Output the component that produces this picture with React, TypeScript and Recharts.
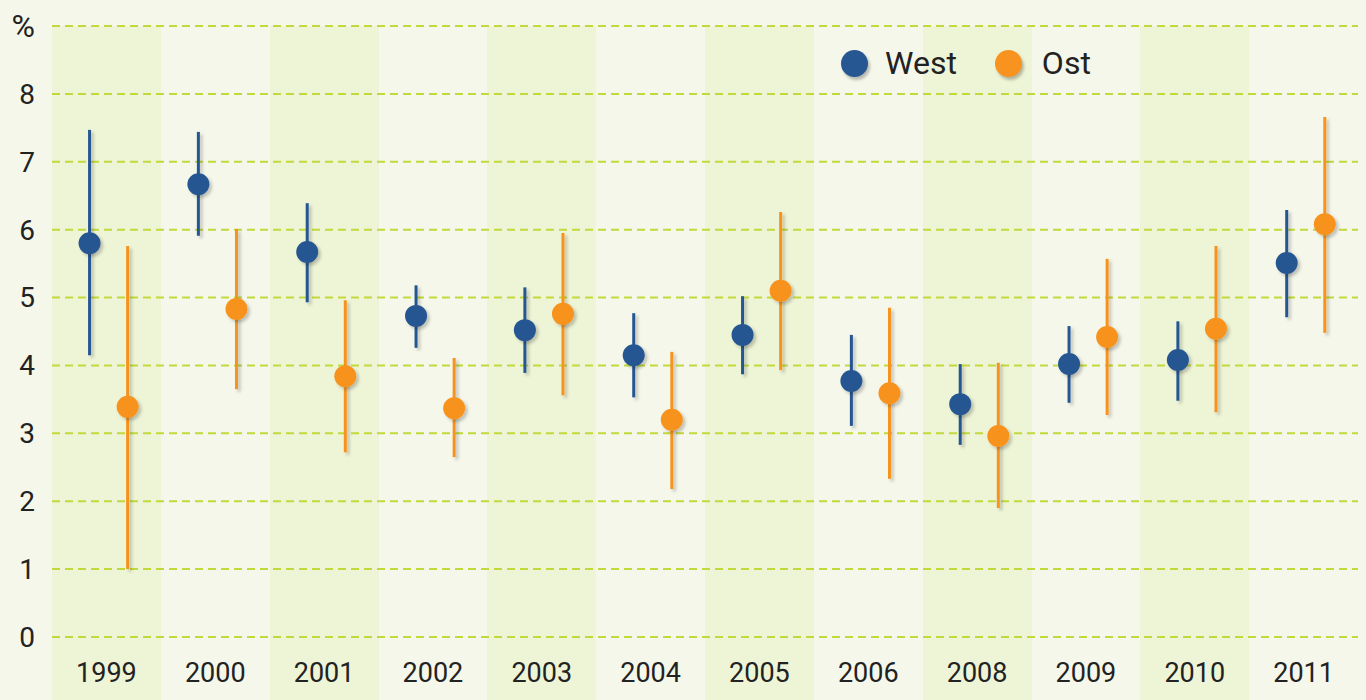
import React from "react";
import {
  ComposedChart,
  Scatter,
  ErrorBar,
  XAxis,
  YAxis,
  CartesianGrid,
} from "recharts";

const years = ["1999", "2000", "2001", "2002", "2003", "2004", "2005", "2006", "2008", "2009", "2010", "2011"];

// West: point estimate with lower / upper bound
const westValue = [5.8, 6.67, 5.67, 4.73, 4.52, 4.15, 4.45, 3.77, 3.43, 4.02, 4.08, 5.51];
const westLow = [4.15, 5.91, 4.93, 4.26, 3.89, 3.53, 3.87, 3.11, 2.83, 3.45, 3.48, 4.71];
const westHigh = [7.47, 7.44, 6.39, 5.18, 5.15, 4.77, 5.02, 4.45, 4.02, 4.58, 4.65, 6.29];

// Ost
const ostValue = [3.39, 4.83, 3.84, 3.37, 4.76, 3.2, 5.1, 3.59, 2.96, 4.42, 4.54, 6.08];
const ostLow = [1.0, 3.65, 2.72, 2.65, 3.56, 2.18, 3.93, 2.33, 1.9, 3.27, 3.31, 4.48];
const ostHigh = [5.76, 6.01, 4.96, 4.11, 5.95, 4.2, 6.26, 4.85, 4.04, 5.57, 5.76, 7.66];

const yTicks = [0, 1, 2, 3, 4, 5, 6, 7, 8, 9];
const Y_MIN = -0.928; // lets the column bands run under the year labels
const Y_MAX = 9;

const WEST = "#265792";
const OST = "#f7931e";
const BG = "#f5f7ea";
const BAND = "#eef4d6";
const GRID = "#c3d93b";
const TEXT = "#222";
const FONT = "Roboto, sans-serif";

const makeRows = (vals: number[], lows: number[], highs: number[], shift: number) =>
  vals.map((v, i) => ({
    x: i + 0.5 + shift,
    y: v,
    err: [v - lows[i], highs[i] - v],
  }));

const westData = makeRows(westValue, westLow, westHigh, -0.155);
const ostData = makeRows(ostValue, ostLow, ostHigh, 0.195);

const Dot = (props: any) => {
  const { cx, cy, fill } = props;
  return <circle cx={cx} cy={cy} r={11} fill={fill} filter="url(#dropShadow)" />;
};

// band edges: one column per year
const bandEdges = ({ offset }: any) =>
  Array.from({ length: years.length + 1 }, (_, i) => offset.left + (i * offset.width) / years.length);

// horizontal grid only at the value ticks
const gridRows = ({ offset }: any) =>
  yTicks.map((t) => offset.top + (offset.height * (Y_MAX - t)) / (Y_MAX - Y_MIN));

const YearTick = (props: any) => {
  const { x, y, payload } = props;
  return (
    <text x={x} y={y - 18} textAnchor="middle" fill={TEXT} fontSize={27} fontFamily={FONT}>
      {years[Math.floor(payload.value)]}
    </text>
  );
};

const ValueTick = (props: any) => {
  const { x, y, payload } = props;
  const isUnit = payload.value === Y_MAX;
  return (
    <text
      x={x}
      y={y}
      dy="0.355em"
      textAnchor="end"
      fill={TEXT}
      fontSize={isUnit ? 32 : 28}
      fontFamily={FONT}
    >
      {isUnit ? "%" : String(payload.value)}
    </text>
  );
};

const LegendBox = () => (
  <div
    style={{
      position: "absolute",
      left: 841,
      top: 44,
      display: "flex",
      alignItems: "center",
      fontFamily: FONT,
      fontSize: 32,
      lineHeight: "38px",
      color: TEXT,
    }}
  >
    <span style={{ width: 27, height: 27, borderRadius: "50%", background: WEST, display: "inline-block", marginRight: 17, boxShadow: "2px 3px 3px rgba(0,0,0,0.25)" }} />
    <span style={{ marginRight: 38 }}>West</span>
    <span style={{ width: 27, height: 27, borderRadius: "50%", background: OST, display: "inline-block", marginRight: 20, boxShadow: "2px 3px 3px rgba(0,0,0,0.25)" }} />
    <span>Ost</span>
  </div>
);

export default function App() {
  return (
    <div style={{ position: "absolute", left: 0, top: 0, width: 1366, height: 700, background: BG }}>
      <style>{`.recharts-errorBar line { filter: url(#dropShadow); }`}</style>
      <svg width={0} height={0} style={{ position: "absolute" }}>
        <defs>
          <filter id="dropShadow" filterUnits="userSpaceOnUse" x={0} y={0} width={1366} height={700}>
            <feDropShadow dx={2.5} dy={2.5} stdDeviation={1.8} floodColor="#000" floodOpacity={0.22} />
          </filter>
        </defs>
      </svg>
      <ComposedChart
        width={1366}
        height={700}
        margin={{ top: 26, right: 8, left: 0, bottom: -1 }}
        style={{ fontFamily: FONT }}
      >
        <CartesianGrid
          horizontal={false}
          stroke="none"
          verticalFill={[BAND, BG]}
          fillOpacity={1}
          verticalCoordinatesGenerator={bandEdges}
        />
        <CartesianGrid
          vertical={false}
          stroke={GRID}
          strokeWidth={2}
          strokeDasharray="8 5"
          horizontalCoordinatesGenerator={gridRows}
        />
        <XAxis
          type="number"
          dataKey="x"
          domain={[0, 12]}
          ticks={years.map((_, i) => i + 0.5)}
          axisLine={false}
          tickLine={false}
          tickSize={0}
          tickMargin={0}
          height={1}
          tick={<YearTick />}
          interval={0}
          allowDataOverflow
        />
        <YAxis
          type="number"
          domain={[Y_MIN, Y_MAX]}
          ticks={yTicks}
          axisLine={false}
          tickLine={false}
          tickSize={0}
          tickMargin={17}
          width={52}
          tick={<ValueTick />}
          interval={0}
          allowDataOverflow
        />
        <Scatter name="West" data={westData} dataKey="y" fill={WEST} shape={<Dot />} isAnimationActive={false}>
          <ErrorBar dataKey="err" direction="y" width={0} stroke={WEST} strokeWidth={3} />
        </Scatter>
        <Scatter name="Ost" data={ostData} dataKey="y" fill={OST} shape={<Dot />} isAnimationActive={false}>
          <ErrorBar dataKey="err" direction="y" width={0} stroke={OST} strokeWidth={3} />
        </Scatter>
      </ComposedChart>
      <LegendBox />
    </div>
  );
}
